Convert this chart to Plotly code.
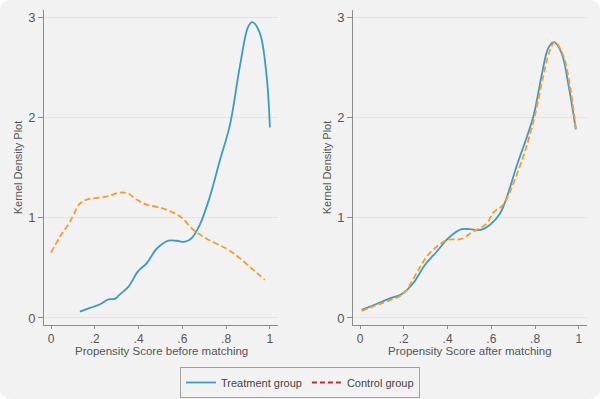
import plotly.graph_objects as go

# Before matching
before_treat_x = [0.132, 0.178, 0.224, 0.262, 0.292, 0.315, 0.353, 0.399, 0.437, 0.483, 0.536, 0.574, 0.612, 0.642, 0.68, 0.726, 0.772, 0.817, 0.863, 0.90, 0.919, 0.954, 0.985, 1.0]
before_treat_y = [0.063, 0.10, 0.137, 0.186, 0.19, 0.236, 0.31, 0.47, 0.545, 0.69, 0.77, 0.77, 0.76, 0.795, 0.93, 1.21, 1.575, 1.92, 2.51, 2.90, 2.95, 2.84, 2.41, 1.90]
before_ctrl_x = [0.0, 0.041, 0.087, 0.132, 0.163, 0.254, 0.315, 0.353, 0.391, 0.437, 0.498, 0.558, 0.597, 0.65, 0.711, 0.802, 0.863, 0.924, 0.977]
before_ctrl_y = [0.65, 0.81, 0.96, 1.14, 1.18, 1.21, 1.25, 1.24, 1.18, 1.13, 1.10, 1.05, 1.0, 0.88, 0.79, 0.69, 0.595, 0.48, 0.38]

# After matching
after_treat_x = [0.008, 0.061, 0.137, 0.19, 0.243, 0.297, 0.35, 0.403, 0.464, 0.502, 0.548, 0.594, 0.639, 0.667, 0.715, 0.791, 0.829, 0.86, 0.886, 0.921, 0.951, 0.986]
after_treat_y = [0.08, 0.127, 0.196, 0.236, 0.346, 0.53, 0.66, 0.795, 0.885, 0.885, 0.877, 0.93, 1.04, 1.18, 1.51, 2.0, 2.41, 2.69, 2.75, 2.64, 2.34, 1.88]
after_ctrl_x = [0.008, 0.076, 0.183, 0.213, 0.259, 0.304, 0.35, 0.403, 0.457, 0.517, 0.578, 0.609, 0.65, 0.673, 0.746, 0.799, 0.837, 0.868, 0.89, 0.928, 0.959, 0.986]
after_ctrl_y = [0.07, 0.13, 0.22, 0.28, 0.45, 0.61, 0.71, 0.78, 0.785, 0.86, 0.94, 1.05, 1.12, 1.2, 1.61, 2.02, 2.41, 2.67, 2.75, 2.62, 2.31, 1.89]

x_tick_vals = [0, 0.2, 0.4, 0.6, 0.8, 1]
x_tick_text = ["0", ".2", ".4", ".6", ".8", "1"]
y_tick_vals = [0, 1, 2, 3]
y_tick_text = ["0", "1", "2", "3"]
series_names = ["Treatment group", "Control group"]
x_titles = ["Propensity Score before matching", "Propensity Score after matching"]
y_title = "Kernel Density Plot"

BLUE = "#3a9ac9"
ORANGE = "#fb9a29"
LEGEND_RED = "#c8283a"
BG = "#f2f2f2"
FONT = "Liberation Sans, Arial, sans-serif"
DASH = "6px,3px"

fig = go.Figure()
fig.add_trace(go.Scatter(x=before_treat_x, y=before_treat_y, mode="lines", line=dict(color=BLUE, width=1.8, shape="spline"),
                         showlegend=False, xaxis="x", yaxis="y"))
fig.add_trace(go.Scatter(x=before_ctrl_x, y=before_ctrl_y, mode="lines", line=dict(color=ORANGE, width=1.8, dash=DASH, shape="spline"),
                         showlegend=False, xaxis="x", yaxis="y"))
fig.add_trace(go.Scatter(x=after_treat_x, y=after_treat_y, mode="lines", line=dict(color=BLUE, width=1.8, shape="spline"),
                         showlegend=False, xaxis="x2", yaxis="y2"))
fig.add_trace(go.Scatter(x=after_ctrl_x, y=after_ctrl_y, mode="lines", line=dict(color=ORANGE, width=1.8, dash=DASH, shape="spline"),
                         showlegend=False, xaxis="x2", yaxis="y2"))
# legend entries
fig.add_trace(go.Scatter(x=[None], y=[None], mode="lines", name=series_names[0], line=dict(color=BLUE, width=1.8)))
fig.add_trace(go.Scatter(x=[None], y=[None], mode="lines", name=series_names[1], line=dict(color=LEGEND_RED, width=1.8, dash="5px,3px")))

W, H = 600, 399
ydom = [1 - 325 / H, 1 - 10 / H]
xdom1 = [44 / W, 278 / W]
xdom2 = [353 / W, 587 / W]
common_x = dict(range=[-0.032, 1.037], tickvals=x_tick_vals, ticktext=x_tick_text, showgrid=False, zeroline=False,
                showline=True, linecolor="#8c8c8c", linewidth=1, ticks="outside", ticklen=3, tickcolor="#8c8c8c",
                tickfont=dict(size=12, color="#555555", family=FONT))
common_y = dict(range=[-0.07, 3.07], tickvals=y_tick_vals, ticktext=y_tick_text, showgrid=True, gridcolor="#e3e3e3", gridwidth=1,
                zeroline=False, showline=True, linecolor="#8c8c8c", linewidth=1, ticks="outside", ticklen=5, tickcolor="#8c8c8c",
                tickfont=dict(size=13, color="#555555", family=FONT), title_font=dict(size=11, color="#555555", family=FONT),
                title_standoff=3, title_text=y_title, domain=ydom)

fig.update_layout(
    width=W, height=H,
    margin=dict(l=0, r=0, t=0, b=0),
    paper_bgcolor="white",
    plot_bgcolor="rgba(0,0,0,0)",
    font=dict(family=FONT, color="#555555"),
    xaxis=dict(domain=xdom1, anchor="y", **common_x),
    yaxis=dict(anchor="x", **common_y),
    xaxis2=dict(domain=xdom2, anchor="y2", **common_x),
    yaxis2=dict(anchor="x2", **common_y),
    legend=dict(orientation="h", x=0.5, xanchor="center", y=1 - 367 / H, yanchor="top",
                bgcolor=BG, bordercolor="#a0a0a0", borderwidth=1, font=dict(size=11, color="#444444", family=FONT),
                itemwidth=30, tracegroupgap=0),
)

for ax, title in zip(["x", "x2"], x_titles):
    fig.add_annotation(text=title, xref=f"{ax} domain", x=0.5, yref="paper", y=1 - 351 / H, yanchor="middle",
                       showarrow=False, font=dict(size=11.5, color="#555555", family=FONT))

rx, ry = 12 / W, 12 / H
path = (f"M {rx},0 L {1-rx},0 Q 1,0 1,{ry} L 1,{1-ry} Q 1,1 {1-rx},1 L {rx},1 Q 0,1 0,{1-ry} "
        f"L 0,{ry} Q 0,0 {rx},0 Z")
fig.add_shape(type="path", path=path, xref="paper", yref="paper", fillcolor=BG, line=dict(width=0), layer="below")

fig.write_html("out.html", config={"displayModeBar": False},
               post_script="document.body.style.margin='0';document.body.style.padding='0';")
